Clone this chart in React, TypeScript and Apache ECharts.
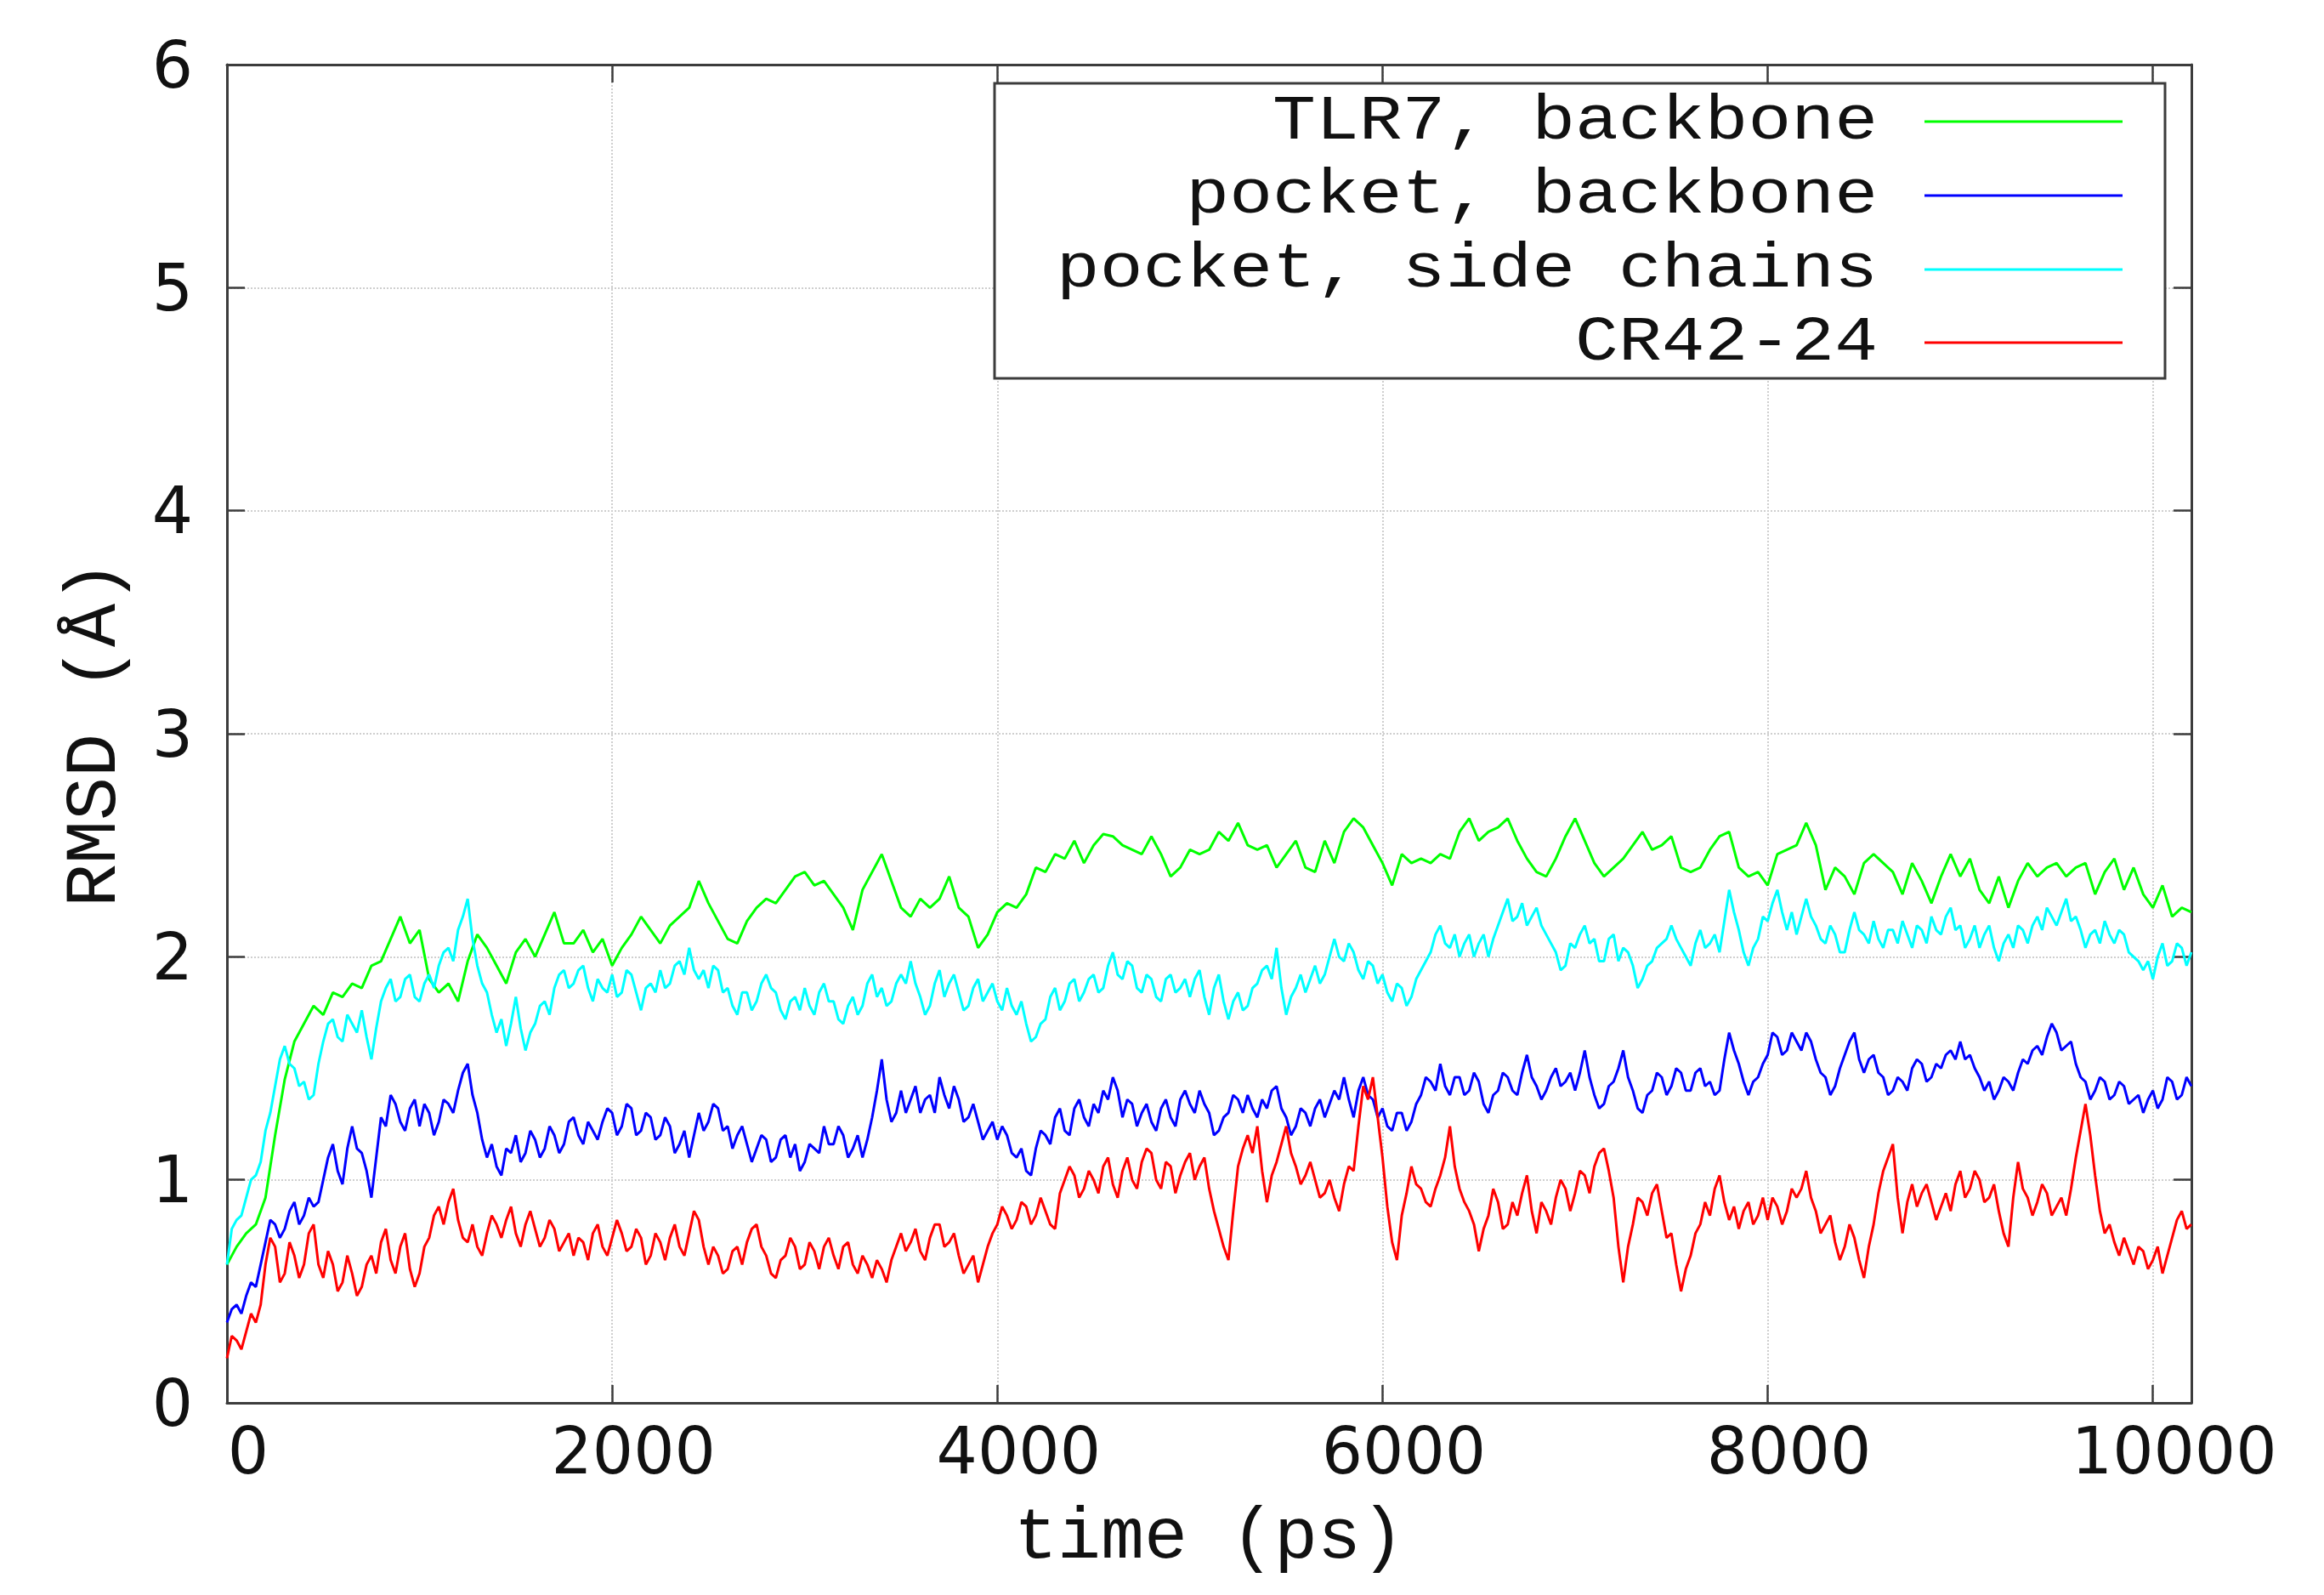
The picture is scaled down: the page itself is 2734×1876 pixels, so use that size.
import React, { useEffect, useRef } from "react";
import * as echarts from "echarts";

// time grids (ps): the TLR7 trace is read every 50 ps, the noisier traces every 25 ps
const times50: number[] = Array.from({ length: 205 }, (_, i) => i * 50);
const times25: number[] = Array.from({ length: 409 }, (_, i) => i * 25);

const seriesNames = ["TLR7, backbone", "pocket, backbone", "pocket, side chains", "CR42-24"];
const seriesColors = ["#00ff00", "#0000ff", "#00ffff", "#ff0000"];

const xTicks = [0, 2000, 4000, 6000, 8000, 10000];
const yTicks = [0, 1, 2, 3, 4, 5, 6];

const tlr7Backbone = [
  0.62, 0.70, 0.76, 0.80, 0.92, 1.20, 1.45, 1.62, 1.70, 1.78,
  1.74, 1.84, 1.82, 1.88, 1.86, 1.96, 1.98, 2.08, 2.18, 2.06,
  2.12, 1.90, 1.84, 1.88, 1.80, 1.98, 2.10, 2.04, 1.96, 1.88,
  2.02, 2.08, 2.00, 2.10, 2.20, 2.06, 2.06, 2.12, 2.02, 2.08,
  1.96, 2.04, 2.10, 2.18, 2.12, 2.06, 2.14, 2.18, 2.22, 2.34,
  2.24, 2.16, 2.08, 2.06, 2.16, 2.22, 2.26, 2.24, 2.30, 2.36,
  2.38, 2.32, 2.34, 2.28, 2.22, 2.12, 2.30, 2.38, 2.46, 2.34,
  2.22, 2.18, 2.26, 2.22, 2.26, 2.36, 2.22, 2.18, 2.04, 2.10,
  2.20, 2.24, 2.22, 2.28, 2.40, 2.38, 2.46, 2.44, 2.52, 2.42,
  2.50, 2.55, 2.54, 2.50, 2.48, 2.46, 2.54, 2.46, 2.36, 2.40,
  2.48, 2.46, 2.48, 2.56, 2.52, 2.60, 2.50, 2.48, 2.50, 2.40,
  2.46, 2.52, 2.40, 2.38, 2.52, 2.42, 2.56, 2.62, 2.58, 2.50,
  2.42, 2.32, 2.46, 2.42, 2.44, 2.42, 2.46, 2.44, 2.56, 2.62,
  2.52, 2.56, 2.58, 2.62, 2.52, 2.44, 2.38, 2.36, 2.44, 2.54,
  2.62, 2.52, 2.42, 2.36, 2.40, 2.44, 2.50, 2.56, 2.48, 2.50,
  2.54, 2.40, 2.38, 2.40, 2.48, 2.54, 2.56, 2.40, 2.36, 2.38,
  2.32, 2.46, 2.48, 2.50, 2.60, 2.50, 2.30, 2.40, 2.36, 2.28,
  2.42, 2.46, 2.42, 2.38, 2.28, 2.42, 2.34, 2.24, 2.36, 2.46,
  2.36, 2.44, 2.30, 2.24, 2.36, 2.22, 2.34, 2.42, 2.36, 2.40,
  2.42, 2.36, 2.40, 2.42, 2.28, 2.38, 2.44, 2.30, 2.40, 2.28,
  2.22, 2.32, 2.18, 2.22, 2.20,
];

const pocketBackbone = [
  0.36, 0.42, 0.44, 0.40, 0.48, 0.54, 0.52, 0.62, 0.72, 0.82, 0.80, 0.74, 0.78, 0.86, 0.90, 0.80, 0.84, 0.92, 0.88, 0.90,
  1.00, 1.10, 1.16, 1.04, 0.98, 1.14, 1.24, 1.14, 1.12, 1.04, 0.92, 1.10, 1.28, 1.24, 1.38, 1.34, 1.26, 1.22, 1.32, 1.36,
  1.24, 1.34, 1.30, 1.20, 1.26, 1.36, 1.34, 1.30, 1.40, 1.48, 1.52, 1.38, 1.30, 1.18, 1.10, 1.16, 1.06, 1.02, 1.14, 1.12,
  1.20, 1.08, 1.12, 1.22, 1.18, 1.10, 1.14, 1.24, 1.20, 1.12, 1.16, 1.26, 1.28, 1.20, 1.16, 1.26, 1.22, 1.18, 1.26, 1.32,
  1.30, 1.20, 1.24, 1.34, 1.32, 1.20, 1.22, 1.30, 1.28, 1.18, 1.20, 1.28, 1.24, 1.12, 1.16, 1.22, 1.10, 1.20, 1.30, 1.22,
  1.26, 1.34, 1.32, 1.22, 1.24, 1.14, 1.20, 1.24, 1.16, 1.08, 1.14, 1.20, 1.18, 1.08, 1.10, 1.18, 1.20, 1.10, 1.16, 1.04,
  1.08, 1.16, 1.14, 1.12, 1.24, 1.16, 1.16, 1.24, 1.20, 1.10, 1.14, 1.20, 1.10, 1.18, 1.28, 1.40, 1.54, 1.36, 1.26, 1.30,
  1.40, 1.30, 1.36, 1.42, 1.30, 1.36, 1.38, 1.30, 1.46, 1.38, 1.32, 1.42, 1.36, 1.26, 1.28, 1.34, 1.26, 1.18, 1.22, 1.26,
  1.18, 1.24, 1.20, 1.12, 1.10, 1.14, 1.04, 1.02, 1.14, 1.22, 1.20, 1.16, 1.28, 1.32, 1.22, 1.20, 1.32, 1.36, 1.28, 1.24,
  1.34, 1.30, 1.40, 1.36, 1.46, 1.40, 1.28, 1.36, 1.34, 1.24, 1.30, 1.34, 1.26, 1.22, 1.32, 1.36, 1.28, 1.24, 1.36, 1.40,
  1.34, 1.30, 1.40, 1.34, 1.30, 1.20, 1.22, 1.28, 1.30, 1.38, 1.36, 1.30, 1.38, 1.32, 1.28, 1.36, 1.32, 1.40, 1.42, 1.32,
  1.28, 1.20, 1.24, 1.32, 1.30, 1.24, 1.32, 1.36, 1.28, 1.34, 1.40, 1.36, 1.46, 1.36, 1.28, 1.40, 1.46, 1.38, 1.36, 1.28,
  1.32, 1.24, 1.22, 1.30, 1.30, 1.22, 1.26, 1.34, 1.38, 1.46, 1.44, 1.40, 1.52, 1.42, 1.38, 1.46, 1.46, 1.38, 1.40, 1.48,
  1.44, 1.34, 1.30, 1.38, 1.40, 1.48, 1.46, 1.40, 1.38, 1.48, 1.56, 1.46, 1.42, 1.36, 1.40, 1.46, 1.50, 1.42, 1.44, 1.48,
  1.40, 1.48, 1.58, 1.46, 1.38, 1.32, 1.34, 1.42, 1.44, 1.50, 1.58, 1.46, 1.40, 1.32, 1.30, 1.38, 1.40, 1.48, 1.46, 1.38,
  1.42, 1.50, 1.48, 1.40, 1.40, 1.48, 1.50, 1.42, 1.44, 1.38, 1.40, 1.54, 1.66, 1.58, 1.52, 1.44, 1.38, 1.44, 1.46, 1.52,
  1.56, 1.66, 1.64, 1.56, 1.58, 1.66, 1.62, 1.58, 1.66, 1.62, 1.54, 1.48, 1.46, 1.38, 1.42, 1.50, 1.56, 1.62, 1.66, 1.54,
  1.48, 1.54, 1.56, 1.48, 1.46, 1.38, 1.40, 1.46, 1.44, 1.40, 1.50, 1.54, 1.52, 1.44, 1.46, 1.52, 1.50, 1.56, 1.58, 1.54,
  1.62, 1.54, 1.56, 1.50, 1.46, 1.40, 1.44, 1.36, 1.40, 1.46, 1.44, 1.40, 1.48, 1.54, 1.52, 1.58, 1.60, 1.56, 1.64, 1.70,
  1.66, 1.58, 1.60, 1.62, 1.52, 1.46, 1.44, 1.36, 1.40, 1.46, 1.44, 1.36, 1.38, 1.44, 1.42, 1.34, 1.36, 1.38, 1.30, 1.36,
  1.40, 1.32, 1.36, 1.46, 1.44, 1.36, 1.38, 1.46, 1.42,
];

const pocketSideChains = [
  0.62, 0.78, 0.82, 0.84, 0.92, 1.00, 1.02, 1.08, 1.22, 1.30, 1.42, 1.54, 1.60, 1.52, 1.50, 1.42, 1.44, 1.36, 1.38, 1.52,
  1.62, 1.70, 1.72, 1.64, 1.62, 1.74, 1.70, 1.66, 1.76, 1.64, 1.54, 1.68, 1.80, 1.86, 1.90, 1.80, 1.82, 1.90, 1.92, 1.82,
  1.80, 1.88, 1.92, 1.86, 1.96, 2.02, 2.04, 1.98, 2.12, 2.18, 2.26, 2.08, 1.96, 1.88, 1.84, 1.74, 1.66, 1.72, 1.60, 1.70,
  1.82, 1.68, 1.58, 1.66, 1.70, 1.78, 1.80, 1.74, 1.86, 1.92, 1.94, 1.86, 1.88, 1.94, 1.96, 1.86, 1.80, 1.90, 1.86, 1.84,
  1.92, 1.82, 1.84, 1.94, 1.92, 1.84, 1.76, 1.86, 1.88, 1.84, 1.94, 1.86, 1.88, 1.96, 1.98, 1.92, 2.04, 1.94, 1.90, 1.94,
  1.86, 1.96, 1.94, 1.84, 1.86, 1.78, 1.74, 1.84, 1.84, 1.76, 1.80, 1.88, 1.92, 1.86, 1.84, 1.76, 1.72, 1.80, 1.82, 1.76,
  1.86, 1.78, 1.74, 1.84, 1.88, 1.80, 1.80, 1.72, 1.70, 1.78, 1.82, 1.74, 1.78, 1.88, 1.92, 1.82, 1.86, 1.78, 1.80, 1.88,
  1.92, 1.88, 1.98, 1.88, 1.82, 1.74, 1.78, 1.88, 1.94, 1.82, 1.88, 1.92, 1.84, 1.76, 1.78, 1.86, 1.90, 1.80, 1.84, 1.88,
  1.80, 1.76, 1.86, 1.78, 1.74, 1.80, 1.70, 1.62, 1.64, 1.70, 1.72, 1.82, 1.86, 1.76, 1.80, 1.88, 1.90, 1.80, 1.84, 1.90,
  1.92, 1.84, 1.86, 1.96, 2.02, 1.92, 1.90, 1.98, 1.96, 1.86, 1.84, 1.92, 1.90, 1.82, 1.80, 1.90, 1.92, 1.84, 1.86, 1.90,
  1.82, 1.90, 1.94, 1.82, 1.74, 1.86, 1.92, 1.80, 1.72, 1.80, 1.84, 1.76, 1.78, 1.86, 1.88, 1.94, 1.96, 1.90, 2.04, 1.86,
  1.74, 1.82, 1.86, 1.92, 1.84, 1.90, 1.96, 1.88, 1.92, 2.00, 2.08, 2.00, 1.98, 2.06, 2.02, 1.94, 1.90, 1.98, 1.96, 1.88,
  1.92, 1.84, 1.80, 1.88, 1.86, 1.78, 1.82, 1.90, 1.94, 1.98, 2.02, 2.10, 2.14, 2.06, 2.04, 2.10, 2.00, 2.06, 2.10, 2.00,
  2.06, 2.10, 2.00, 2.08, 2.14, 2.20, 2.26, 2.16, 2.18, 2.24, 2.14, 2.18, 2.22, 2.14, 2.10, 2.06, 2.02, 1.94, 1.96, 2.06,
  2.04, 2.10, 2.14, 2.06, 2.08, 1.98, 1.98, 2.08, 2.10, 1.98, 2.04, 2.02, 1.96, 1.86, 1.90, 1.96, 1.98, 2.04, 2.06, 2.08,
  2.14, 2.08, 2.04, 2.00, 1.96, 2.06, 2.12, 2.04, 2.06, 2.10, 2.02, 2.16, 2.30, 2.20, 2.12, 2.02, 1.96, 2.04, 2.08, 2.18,
  2.16, 2.24, 2.30, 2.20, 2.12, 2.20, 2.10, 2.18, 2.26, 2.18, 2.14, 2.08, 2.06, 2.14, 2.10, 2.02, 2.02, 2.12, 2.20, 2.12,
  2.10, 2.06, 2.16, 2.08, 2.04, 2.12, 2.12, 2.06, 2.16, 2.10, 2.04, 2.14, 2.12, 2.06, 2.18, 2.12, 2.10, 2.18, 2.22, 2.12,
  2.14, 2.04, 2.08, 2.14, 2.04, 2.10, 2.14, 2.04, 1.98, 2.06, 2.10, 2.04, 2.14, 2.12, 2.06, 2.14, 2.18, 2.12, 2.22, 2.18,
  2.14, 2.20, 2.26, 2.16, 2.18, 2.12, 2.04, 2.10, 2.12, 2.06, 2.16, 2.10, 2.06, 2.12, 2.10, 2.02, 2.00, 1.98, 1.94, 1.98,
  1.90, 2.00, 2.06, 1.96, 1.98, 2.06, 2.04, 1.96, 2.02,
];

const cr4224 = [
  0.20, 0.30, 0.28, 0.24, 0.32, 0.40, 0.36, 0.44, 0.62, 0.74, 0.70, 0.54, 0.58, 0.72, 0.66, 0.56, 0.62, 0.76, 0.80, 0.62,
  0.56, 0.68, 0.62, 0.50, 0.54, 0.66, 0.58, 0.48, 0.52, 0.62, 0.66, 0.58, 0.72, 0.78, 0.64, 0.58, 0.70, 0.76, 0.60, 0.52,
  0.58, 0.70, 0.74, 0.84, 0.88, 0.80, 0.90, 0.96, 0.82, 0.74, 0.72, 0.80, 0.70, 0.66, 0.76, 0.84, 0.80, 0.74, 0.82, 0.88,
  0.76, 0.70, 0.80, 0.86, 0.78, 0.70, 0.74, 0.82, 0.78, 0.68, 0.72, 0.76, 0.66, 0.74, 0.72, 0.64, 0.76, 0.80, 0.70, 0.66,
  0.74, 0.82, 0.76, 0.68, 0.70, 0.78, 0.74, 0.62, 0.66, 0.76, 0.72, 0.64, 0.74, 0.80, 0.70, 0.66, 0.76, 0.86, 0.82, 0.70,
  0.62, 0.70, 0.66, 0.58, 0.60, 0.68, 0.70, 0.62, 0.72, 0.78, 0.80, 0.70, 0.66, 0.58, 0.56, 0.64, 0.66, 0.74, 0.70, 0.60,
  0.62, 0.72, 0.68, 0.60, 0.70, 0.74, 0.66, 0.60, 0.70, 0.72, 0.62, 0.58, 0.66, 0.62, 0.56, 0.64, 0.60, 0.54, 0.64, 0.70,
  0.76, 0.68, 0.72, 0.78, 0.68, 0.64, 0.74, 0.80, 0.80, 0.70, 0.72, 0.76, 0.66, 0.58, 0.62, 0.66, 0.54, 0.62, 0.70, 0.76,
  0.80, 0.88, 0.84, 0.78, 0.82, 0.90, 0.88, 0.80, 0.84, 0.92, 0.86, 0.80, 0.78, 0.94, 1.00, 1.06, 1.02, 0.92, 0.96, 1.04,
  1.00, 0.94, 1.06, 1.10, 0.98, 0.92, 1.04, 1.10, 1.00, 0.96, 1.08, 1.14, 1.12, 1.00, 0.96, 1.08, 1.06, 0.94, 1.02, 1.08,
  1.12, 1.00, 1.06, 1.10, 0.96, 0.86, 0.78, 0.70, 0.64, 0.86, 1.06, 1.14, 1.20, 1.12, 1.24, 1.04, 0.90, 1.02, 1.08, 1.16,
  1.24, 1.12, 1.06, 0.98, 1.02, 1.08, 1.00, 0.92, 0.94, 1.00, 0.92, 0.86, 0.98, 1.06, 1.04, 1.24, 1.42, 1.36, 1.46, 1.28,
  1.10, 0.88, 0.72, 0.64, 0.84, 0.94, 1.06, 0.98, 0.96, 0.90, 0.88, 0.96, 1.02, 1.10, 1.24, 1.06, 0.96, 0.90, 0.86, 0.80,
  0.68, 0.78, 0.84, 0.96, 0.90, 0.78, 0.80, 0.90, 0.84, 0.94, 1.02, 0.86, 0.76, 0.90, 0.86, 0.80, 0.92, 1.00, 0.96, 0.86,
  0.94, 1.04, 1.02, 0.94, 1.06, 1.12, 1.14, 1.04, 0.92, 0.70, 0.54, 0.70, 0.80, 0.92, 0.90, 0.84, 0.94, 0.98, 0.86, 0.74,
  0.76, 0.62, 0.50, 0.60, 0.66, 0.76, 0.80, 0.90, 0.84, 0.96, 1.02, 0.90, 0.82, 0.88, 0.78, 0.86, 0.90, 0.80, 0.84, 0.92,
  0.82, 0.92, 0.88, 0.80, 0.86, 0.96, 0.92, 0.96, 1.04, 0.92, 0.86, 0.76, 0.80, 0.84, 0.72, 0.64, 0.70, 0.80, 0.74, 0.64,
  0.56, 0.70, 0.80, 0.94, 1.04, 1.10, 1.16, 0.92, 0.76, 0.90, 0.98, 0.88, 0.94, 0.98, 0.90, 0.82, 0.88, 0.94, 0.86, 0.98,
  1.04, 0.92, 0.96, 1.04, 1.00, 0.90, 0.92, 0.98, 0.86, 0.76, 0.70, 0.92, 1.08, 0.96, 0.92, 0.84, 0.90, 0.98, 0.94, 0.84,
  0.88, 0.92, 0.84, 0.96, 1.10, 1.22, 1.34, 1.20, 1.02, 0.86, 0.76, 0.80, 0.72, 0.66, 0.74, 0.68, 0.62, 0.70, 0.68, 0.60,
  0.64, 0.70, 0.58, 0.66, 0.74, 0.82, 0.86, 0.78, 0.80,
];

const seriesValues = [tlr7Backbone, pocketBackbone, pocketSideChains, cr4224];
const seriesTimes = [times50, times25, times25, times25];

const AXIS_COLOR = "#3c3c3c";
const MONO = "Liberation Mono";

export default function App() {
  const ref = useRef<HTMLDivElement>(null);

  useEffect(() => {
    if (!ref.current) return;
    const chart = echarts.init(ref.current, undefined, { renderer: "svg" });

    const tickStyle = { inside: true, length: 21, lineStyle: { color: AXIS_COLOR, width: 2.5 } };
    const lineStyleAxis = { show: true, onZero: false, lineStyle: { color: AXIS_COLOR, width: 3 } };
    const gridStyle = { show: true, lineStyle: { color: "#cfcfcf", width: 2, type: "dotted" as const } };

    const legendRowsY = [143, 230, 317, 403];
    const legendGraphics: any[] = [
      {
        type: "rect",
        shape: { x: 1170, y: 98, width: 1377, height: 347 },
        style: { fill: "#ffffff", stroke: AXIS_COLOR, lineWidth: 3 },
        z: 100,
      },
    ];
    seriesNames.forEach((name, i) => {
      legendGraphics.push({
        type: "text",
        x: 2209,
        y: legendRowsY[i],
        scaleX: 1.13,
        z: 101,
        style: {
          text: name,
          fontFamily: MONO,
          fontSize: 75,
          fill: "#111",
          align: "right",
          verticalAlign: "middle",
        },
      });
      legendGraphics.push({
        type: "line",
        z: 101,
        shape: { x1: 2264, y1: legendRowsY[i], x2: 2497, y2: legendRowsY[i] },
        style: { stroke: seriesColors[i], lineWidth: 3 },
      });
    });

    chart.setOption({
      animation: false,
      backgroundColor: "#ffffff",
      grid: { left: 267, right: 156, top: 76, bottom: 226, containLabel: false },
      xAxis: [
        {
          type: "value",
          position: "bottom",
          min: 0,
          max: 10200,
          interval: 2000,
          name: "time (ps)",
          nameLocation: "middle",
          nameGap: 117,
          nameTextStyle: { fontFamily: MONO, fontSize: 85, color: "#111" },
          axisLine: lineStyleAxis,
          axisTick: tickStyle,
          splitLine: gridStyle,
          axisLabel: {
            fontFamily: "DejaVu Sans",
            fontSize: 76,
            color: "#111",
            margin: 18,
            padding: [0, 0, 0, 50],
            formatter: (v: number) => (xTicks.includes(v) ? String(v) : ""),
          },
        },
        {
          type: "value",
          position: "top",
          min: 0,
          max: 10200,
          interval: 2000,
          axisLine: lineStyleAxis,
          axisTick: tickStyle,
          splitLine: { show: false },
          axisLabel: { show: false },
        },
      ],
      yAxis: [
        {
          type: "value",
          position: "left",
          min: 0,
          max: 6,
          interval: 1,
          name: "RMSD (Å)",
          nameLocation: "middle",
          nameRotate: 90,
          nameGap: 112,
          nameTextStyle: { fontFamily: MONO, fontSize: 85, color: "#111" },
          axisLine: lineStyleAxis,
          axisTick: tickStyle,
          splitLine: gridStyle,
          axisLabel: {
            fontFamily: "DejaVu Sans",
            fontSize: 76,
            color: "#111",
            margin: 40,
            formatter: (v: number) => (yTicks.includes(v) ? String(v) : ""),
          },
        },
        {
          type: "value",
          position: "right",
          min: 0,
          max: 6,
          interval: 1,
          axisLine: lineStyleAxis,
          axisTick: tickStyle,
          splitLine: { show: false },
          axisLabel: { show: false },
        },
      ],
      series: seriesValues.map((vals, i) => ({
        name: seriesNames[i],
        type: "line",
        xAxisIndex: 0,
        yAxisIndex: 0,
        data: seriesTimes[i].map((t, k) => [t, vals[k]]),
        showSymbol: false,
        symbol: "none",
        lineStyle: { color: seriesColors[i], width: 3 },
        itemStyle: { color: seriesColors[i] },
        z: 2 + i,
      })),
      graphic: legendGraphics,
    });

    return () => chart.dispose();
  }, []);

  return (
    <div
      ref={ref}
      style={{ position: "fixed", left: 0, top: 0, width: 2734, height: 1876, background: "#fff" }}
    />
  );
}
